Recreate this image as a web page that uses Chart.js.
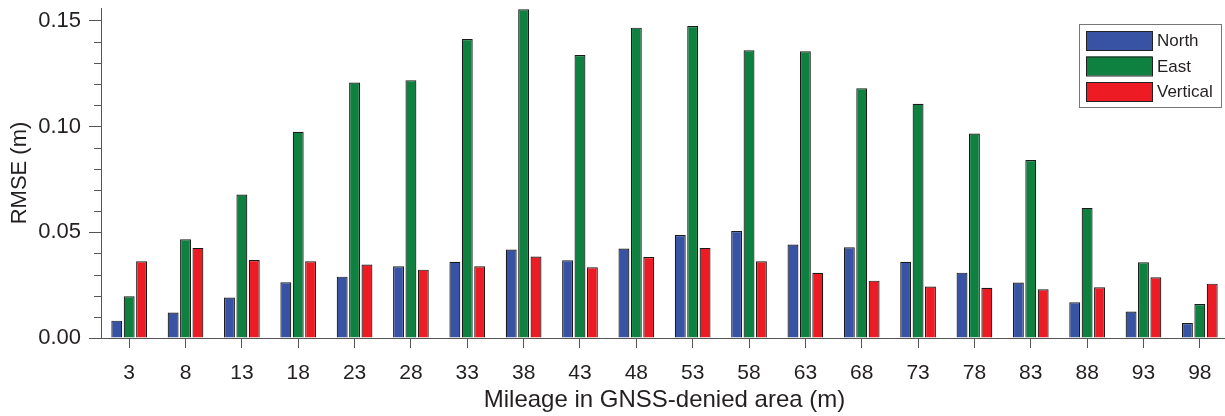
<!DOCTYPE html>
<html>
<head>
<meta charset="utf-8">
<script src="https://cdn.jsdelivr.net/npm/chart.js@4.4.1/dist/chart.umd.min.js"></script>
<style>
  html, body { margin: 0; padding: 0; background: #fff; overflow: hidden; }
  #wrap { width: 1228px; height: 416px; position: relative; }
</style>
</head>
<body>
<div id="wrap"><canvas id="myChart"></canvas></div>
<script>
// mileage (m) along the GNSS-denied stretch
var mileage = [3, 8, 13, 18, 23, 28, 33, 38, 43, 48, 53, 58, 63, 68, 73, 78, 83, 88, 93, 98];

// RMSE values (m)
var north = [0.0082, 0.0120, 0.0191, 0.0263, 0.0290, 0.0339, 0.0360, 0.0418, 0.0368, 0.0423,
             0.0487, 0.0506, 0.0442, 0.0429, 0.0360, 0.0309, 0.0262, 0.0169, 0.0125, 0.0071];
var east = [0.0197, 0.0467, 0.0678, 0.0975, 0.1208, 0.1219, 0.1413, 0.1554, 0.1338, 0.1467,
            0.1475, 0.1360, 0.1355, 0.1181, 0.1107, 0.0967, 0.0841, 0.0615, 0.0358, 0.0161];
var vertical = [0.0363, 0.0426, 0.0369, 0.0363, 0.0347, 0.0323, 0.0339, 0.0385, 0.0334, 0.0383,
                0.0426, 0.0363, 0.0308, 0.0271, 0.0243, 0.0237, 0.0230, 0.0240, 0.0287, 0.0257];

var seriesNames = ["North", "East", "Vertical"];
var seriesColors = ["#3953A4", "#0E8140", "#ED1C24"];

var textColor = "#231F20";
var axisColor = "#555555";
var fontFamily = "'Liberation Sans', Arial, Helvetica, sans-serif";

// short minor ticks every 0.01 on the y axis
var minorTicks = {
    id: 'minorTicks',
    afterDraw: function (chart) {
        var y = chart.scales.y;
        var ctx = chart.ctx;
        ctx.save();
        ctx.strokeStyle = axisColor;
        ctx.lineWidth = 1;
        y.ticks.forEach(function (t) {
            if (Math.round(t.value * 100) % 5 === 0) return;
            var py = Math.round(y.getPixelForValue(t.value)) + 0.5;
            ctx.beginPath();
            ctx.moveTo(y.right - 7, py);
            ctx.lineTo(y.right, py);
            ctx.stroke();
        });
        ctx.restore();
    }
};

// boxed legend in the upper right corner
var boxLegend = {
    id: 'boxLegend',
    afterDraw: function (chart) {
        var ctx = chart.ctx;
        var ds = chart.data.datasets;
        ctx.save();
        ctx.fillStyle = "#ffffff";
        ctx.fillRect(1079, 24, 142, 83);
        ctx.strokeStyle = "#777777";
        ctx.lineWidth = 1;
        ctx.strokeRect(1079.5, 24.5, 142, 83);
        ctx.font = "17px " + fontFamily;
        ctx.textBaseline = "middle";
        ds.forEach(function (d, i) {
            var top = 31 + i * 25.5;
            ctx.fillStyle = d.backgroundColor;
            ctx.fillRect(1086, top, 66, 19);
            ctx.strokeStyle = "#222222";
            ctx.strokeRect(1086.5, top + 0.5, 66, 19);
            ctx.fillStyle = textColor;
            ctx.fillText(d.label, 1157, top + 10.5);
        });
        ctx.restore();
    }
};

var ctx = document.getElementById('myChart').getContext('2d');
var chart = new Chart(ctx, {
    type: 'bar',
    data: {
        labels: mileage,
        datasets: [
            { label: seriesNames[0], data: north, backgroundColor: seriesColors[0] },
            { label: seriesNames[1], data: east, backgroundColor: seriesColors[1] },
            { label: seriesNames[2], data: vertical, backgroundColor: seriesColors[2] }
        ]
    },
    options: {
        responsive: true,
        maintainAspectRatio: false,
        animation: false,
        layout: { padding: { top: 8, right: 0, left: 0, bottom: 0 } },
        datasets: {
            bar: {
                borderColor: "#1a1a1a",
                borderWidth: 1.2,
                categoryPercentage: 0.66,
                barPercentage: 0.88
            }
        },
        plugins: {
            legend: { display: false },
            tooltip: { enabled: false }
        },
        scales: {
            x: {
                afterFit: function (s) {
                    s.height = 78;
                    s.paddingLeft = 0;
                    s.paddingRight = 0;
                },
                grid: {
                    offset: false,
                    drawOnChartArea: false,
                    drawTicks: true,
                    tickLength: 10,
                    color: axisColor
                },
                border: { display: true, color: axisColor, width: 1 },
                ticks: {
                    color: textColor,
                    padding: 13,
                    maxRotation: 0,
                    font: { family: fontFamily, size: 21 }
                },
                title: {
                    display: true,
                    text: "Mileage in GNSS-denied area (m)",
                    color: textColor,
                    font: { family: fontFamily, size: 24 },
                    padding: { top: 0, bottom: 1 }
                }
            },
            y: {
                min: 0,
                max: 0.156,
                afterFit: function (s) {
                    s.width = 101;
                    s.paddingTop = 0;
                    s.paddingBottom = 0;
                },
                grid: {
                    drawOnChartArea: false,
                    drawTicks: true,
                    tickLength: 12,
                    color: function (c) {
                        return Math.round(c.tick.value * 100) % 5 === 0 ? axisColor : 'rgba(0,0,0,0)';
                    }
                },
                border: { display: true, color: axisColor, width: 1 },
                ticks: {
                    stepSize: 0.01,
                    includeBounds: false,
                    autoSkip: false,
                    color: textColor,
                    padding: 8,
                    font: { family: fontFamily, size: 22 },
                    callback: function (v) {
                        return Math.round(v * 100) % 5 === 0 ? v.toFixed(2) : '';
                    }
                },
                title: {
                    display: true,
                    text: "RMSE (m)",
                    color: textColor,
                    font: { family: fontFamily, size: 22 },
                    padding: { top: 7, bottom: 0 }
                }
            }
        }
    },
    plugins: [minorTicks, boxLegend]
});
</script>
</body>
</html>
